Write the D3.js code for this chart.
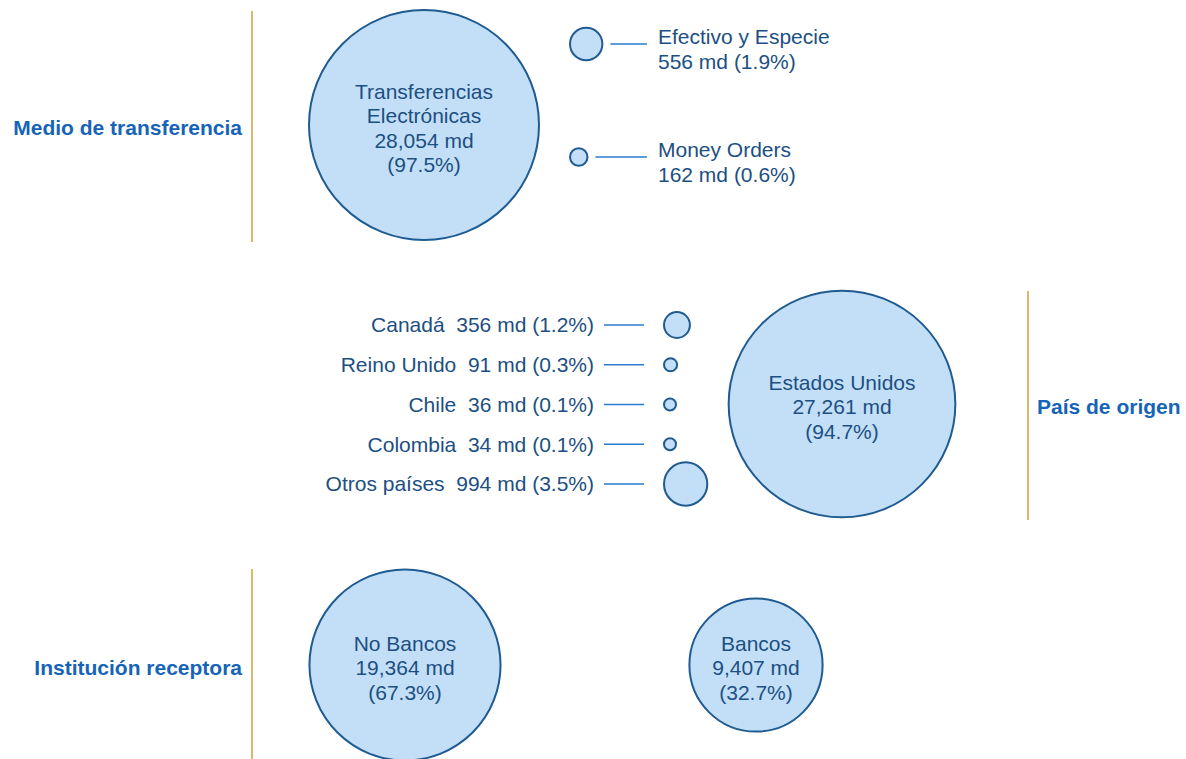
<!DOCTYPE html>
<html>
<head>
<meta charset="utf-8">
<script src="https://cdn.jsdelivr.net/npm/d3@7"></script>
<style>
  body { margin: 0; background: #fff; }
  svg { display: block; font-family: "Liberation Sans", Arial, sans-serif; }
</style>
</head>
<body>
<div id="chart"></div>
<script>
// --- data (millones de dólares) ---
const medioNames = ["Transferencias Electrónicas", "Efectivo y Especie", "Money Orders"];
const medioValues = [28054, 556, 162];

const paisNames = ["Estados Unidos", "Canadá", "Reino Unido", "Chile", "Colombia", "Otros países"];
const paisValues = [27261, 356, 91, 36, 34, 994];

const instNames = ["No Bancos", "Bancos"];
const instValues = [19364, 9407];

const sectionTitles = ["Medio de transferencia", "País de origen", "Institución receptora"];
const unit = "md";

// --- style ---
const width = 1186, height = 759;
const titleColor = "#1664b8";
const textColor = "#1c4f82";
const fillColor = "#c3dff7";
const strokeColor = "#1f5b91";
const leaderColor = "#2b7bd0";
const dividerColor = "#d7ba6c";
const fontSize = 21;
const lineH = 24.5;

const fmt = d3.format(",");
const pctFmt = d3.format(".1%");

// bubble area proportional to value, same scale for all sections
const allValues = medioValues.concat(paisValues, instValues);
const rScale = d3.scaleSqrt().domain([0, d3.max(allValues)]).range([0, 115]);
const radius = v => Math.max(6, rScale(v));

const svg = d3.select("#chart").append("svg")
  .attr("width", width)
  .attr("height", height);

function divider(x, y0, y1) {
  svg.append("line")
    .attr("x1", x).attr("x2", x)
    .attr("y1", y0).attr("y2", y1)
    .attr("stroke", dividerColor)
    .attr("stroke-width", 2);
}

function title(text, x, y, anchor) {
  svg.append("text")
    .attr("x", x).attr("y", y).attr("dy", "0.35em")
    .attr("text-anchor", anchor)
    .attr("fill", titleColor)
    .style("font-size", fontSize + "px")
    .style("font-weight", "bold")
    .text(text);
}

function bubble(cx, cy, value) {
  svg.append("circle")
    .attr("cx", cx).attr("cy", cy)
    .attr("r", radius(value))
    .attr("fill", fillColor)
    .attr("stroke", strokeColor)
    .attr("stroke-width", 2);
}

// big bubble with label inside
function bigBubble(cx, cy, name, value, total) {
  bubble(cx, cy, value);
  const nameLines = name.length > 18 ? name.split(" ") : [name];
  const lines = nameLines.concat([`${fmt(value)} ${unit}`, `(${pctFmt(value / total)})`]);
  const n = lines.length;
  svg.append("text")
    .attr("text-anchor", "middle")
    .attr("fill", textColor)
    .style("font-size", fontSize + "px")
    .selectAll("tspan")
    .data(lines)
    .join("tspan")
    .attr("x", cx)
    .attr("y", (d, i) => cy + 3 + (i - (n - 1) / 2) * lineH)
    .attr("dy", "0.35em")
    .text(d => d);
}

function leader(x1, x2, y) {
  svg.append("line")
    .attr("x1", x1).attr("x2", x2)
    .attr("y1", y).attr("y2", y)
    .attr("stroke", leaderColor)
    .attr("stroke-width", 1.4);
}

// ---------- Medio de transferencia ----------
const medioTotal = d3.sum(medioValues);
divider(252, 11, 242);
title(sectionTitles[0], 242, 128, "end");
bigBubble(424, 125, medioNames[0], medioValues[0], medioTotal);

const medioSmall = medioNames.slice(1);
const medioY = d3.scalePoint().domain(medioSmall).range([44, 157]);
medioSmall.forEach((name, i) => {
  const v = medioValues[i + 1];
  const r = radius(v);
  const cy = medioY(name);
  const cx = 570 + r;
  bubble(cx, cy, v);
  leader(cx + r + 8, 647, cy);
  svg.append("text")
    .attr("fill", textColor)
    .style("font-size", fontSize + "px")
    .selectAll("tspan")
    .data([name, `${fmt(v)} ${unit} (${pctFmt(v / medioTotal)})`])
    .join("tspan")
    .attr("x", 658)
    .attr("y", (d, j) => cy + j * 25)
    .text(d => d);
});

// ---------- País de origen ----------
const paisTotal = d3.sum(paisValues);
divider(1028, 291, 520);
title(sectionTitles[1], 1037, 407, "start");
bigBubble(842, 404, paisNames[0], paisValues[0], paisTotal);

const paisSmall = paisNames.slice(1);
const paisY = d3.scalePoint().domain(paisSmall).range([325, 484]);
const listLeft = 664;
paisSmall.forEach((name, i) => {
  const v = paisValues[i + 1];
  const r = radius(v);
  const cy = paisY(name);
  bubble(listLeft + r, cy, v);
  leader(604, 644, cy);
  svg.append("text")
    .attr("x", 594).attr("y", cy).attr("dy", "0.35em")
    .attr("text-anchor", "end")
    .attr("fill", textColor)
    .style("font-size", fontSize + "px")
    .style("white-space", "pre")
    .text(`${name}  ${fmt(v)} ${unit} (${pctFmt(v / paisTotal)})`);
});

// ---------- Institución receptora ----------
const instTotal = d3.sum(instValues);
divider(252, 569, height);
title(sectionTitles[2], 242, 668, "end");
const instX = d3.scalePoint().domain(instNames).range([405, 756]);
instNames.forEach((name, i) => {
  bigBubble(instX(name), 665, name, instValues[i], instTotal);
});
</script>
</body>
</html>
